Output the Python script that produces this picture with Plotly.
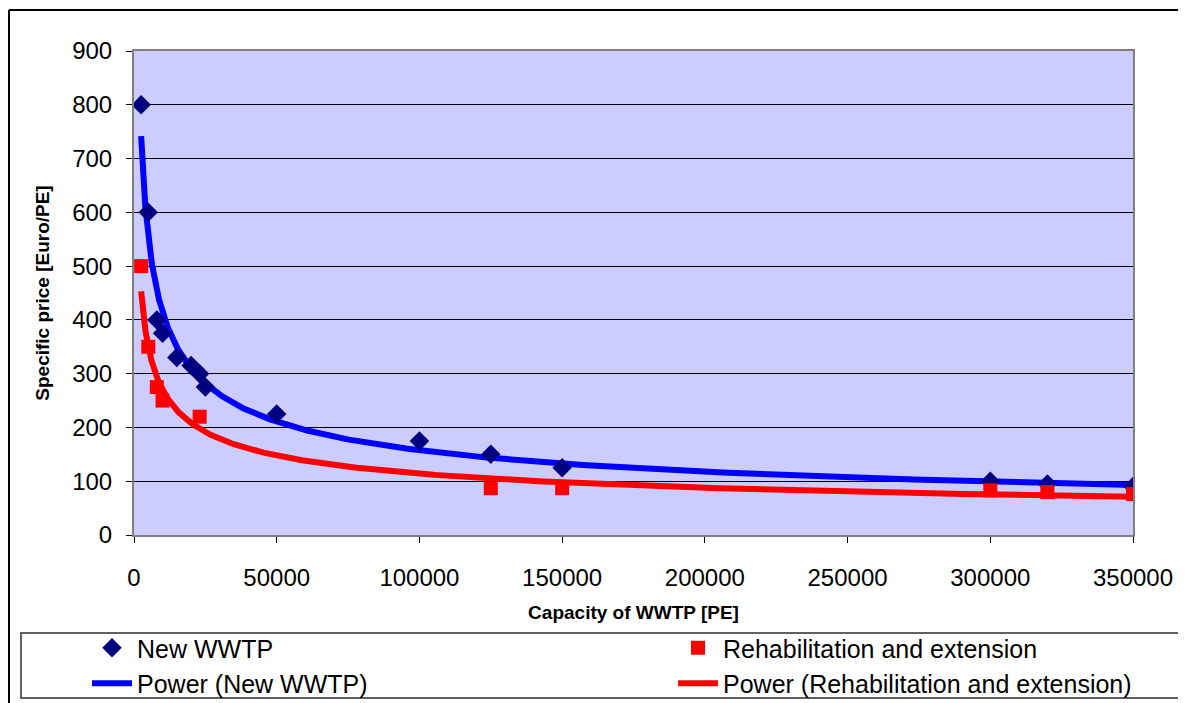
import numpy as np
import plotly.graph_objects as go

# ---- data ----
new_x = [2500, 5000, 8000, 10000, 15000, 20000, 23000, 25000, 50000, 100000, 125000, 150000, 300000, 320000, 350000]
new_y = [800, 600, 400, 375, 330, 315, 300, 275, 225, 175, 150, 125, 100, 95, 90]

reh_x = [2500, 5000, 8000, 10000, 23000, 125000, 150000, 300000, 320000, 350000]
reh_y = [500, 350, 275, 250, 220, 87, 87, 83, 80, 76]

x_ticks = [0, 50000, 100000, 150000, 200000, 250000, 300000, 350000]
y_ticks = [0, 100, 200, 300, 400, 500, 600, 700, 800, 900]

# ---- power trendlines (least squares in log-log space, as Excel does) ----
def power_fit(xs, ys):
    b, ln_a = np.polyfit(np.log(xs), np.log(ys), 1)
    return np.exp(ln_a), b

a_n, b_n = power_fit(new_x, new_y)
a_r, b_r = power_fit(reh_x, reh_y)
xf_n = np.geomspace(min(new_x), max(new_x), 400)
xf_r = np.geomspace(min(reh_x), max(reh_x), 400)

FONT = "Liberation Sans, Arial, sans-serif"

fig = go.Figure()
fig.add_trace(go.Scatter(x=xf_n, y=a_n * xf_n ** b_n, mode="lines",
                         line=dict(color="#0000FF", width=6),
                         name="Power (New WWTP)", legend="legend", legendrank=2))
fig.add_trace(go.Scatter(x=xf_r, y=a_r * xf_r ** b_r, mode="lines",
                         line=dict(color="#FF0000", width=6),
                         name="Power (Rehabilitation and extension)", legend="legend2", legendrank=2))
fig.add_trace(go.Scatter(x=new_x, y=new_y, mode="markers",
                         marker=dict(symbol="diamond", color="#000080", size=15),
                         name="New WWTP", legend="legend", legendrank=1))
fig.add_trace(go.Scatter(x=reh_x, y=reh_y, mode="markers",
                         marker=dict(symbol="square", color="#FF0000", size=14),
                         name="Rehabilitation and extension", legend="legend2", legendrank=1))

# page body has an 8px margin; figure coordinates = screen - 8
W, H = 1178, 695
L, T = 126, 43
R, B = W - 1125, H - 527
pw, ph = W - L - R, H - T - B

def px(xp):
    return (xp - L) / pw

def py(yp):
    return (H - B - yp) / ph

legend_common = dict(
    font=dict(family=FONT, size=25, color="black"),
    bgcolor="rgba(0,0,0,0)", borderwidth=0,
    orientation="v", xanchor="left", yanchor="top",
    itemwidth=40, tracegroupgap=0, traceorder="normal",
)

fig.update_layout(
    width=W, height=H,
    margin=dict(l=L, r=R, t=T, b=B, autoexpand=False),
    paper_bgcolor="white",
    plot_bgcolor="#CCCCFF",
    font=dict(family=FONT, size=24, color="black"),
    xaxis=dict(
        range=[0, 350000], tickvals=x_ticks, ticktext=[str(v) for v in x_ticks],
        showgrid=False, zeroline=False,
        showline=True, linecolor="#808080", linewidth=2, mirror=True,
        ticks="outside", ticklen=6, tickcolor="black", ticklabelstandoff=14,
        tickfont=dict(family=FONT, size=24, color="black"),
        title=dict(text="<b>Capacity of WWTP [PE]</b>", font=dict(family=FONT, size=19, color="black"), standoff=16),
    ),
    yaxis=dict(
        range=[0, 900], tickvals=y_ticks, ticktext=[str(v) for v in y_ticks],
        showgrid=True, gridcolor="black", gridwidth=1, zeroline=False,
        showline=True, linecolor="#808080", linewidth=2, mirror=True,
        ticks="outside", ticklen=6, tickcolor="black", ticklabelstandoff=9,
        tickfont=dict(family=FONT, size=24, color="black"),
        title=dict(text="<b>Specific price [Euro/PE]</b>", font=dict(family=FONT, size=19, color="black"), standoff=18),
    ),
    legend=dict(x=px(79), y=py(617), **legend_common),
    legend2=dict(x=px(665), y=py(617), **legend_common),
    shapes=[
        # legend box
        dict(type="rect", xref="paper", yref="paper",
             x0=px(13), x1=px(1200), y0=py(690), y1=py(625),
             line=dict(color="#606060", width=2), fillcolor="rgba(0,0,0,0)", layer="below"),
        # outer chart border (top and left visible)
        dict(type="line", xref="paper", yref="paper",
             x0=px(1), x1=px(1200), y0=py(2), y1=py(2),
             line=dict(color="black", width=2)),
        dict(type="line", xref="paper", yref="paper",
             x0=px(1), x1=px(1), y0=py(2), y1=py(700),
             line=dict(color="black", width=2)),
    ],
    showlegend=True,
)

fig.write_html("out.html")
